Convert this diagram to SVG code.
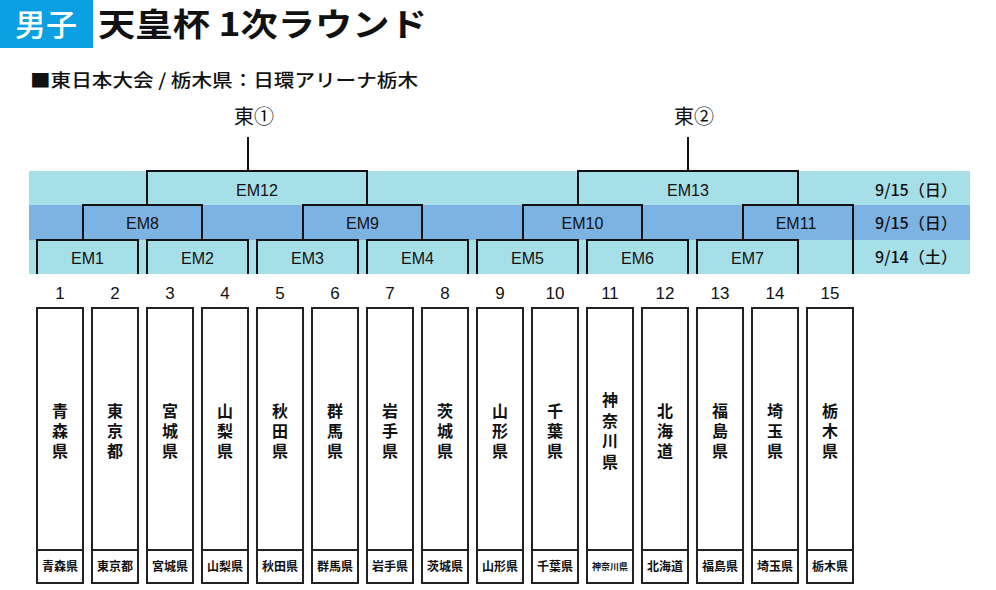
<svg xmlns="http://www.w3.org/2000/svg" width="996" height="590" viewBox="0 0 996 590">
<style>
.jp{font-family:"Noto Sans CJK JP","Noto Sans",sans-serif}
.br{fill:none;stroke:#111;stroke-width:2}
.em{font-family:"Liberation Sans",sans-serif;font-size:16px;fill:#111;text-anchor:middle}
.num{font-family:"Liberation Sans",sans-serif;font-size:17px;fill:#111;text-anchor:middle}
.box{fill:#fff;stroke:#222;stroke-width:2}
.vt{font-family:"Noto Sans CJK JP",sans-serif;font-size:16px;font-weight:700;fill:#111;text-anchor:middle}
.bt{font-family:"Noto Sans CJK JP",sans-serif;font-size:12px;font-weight:700;fill:#111;text-anchor:middle}
.bts{font-family:"Noto Sans CJK JP",sans-serif;font-size:9px;font-weight:700;fill:#111;text-anchor:middle}
.dt{font-family:"Noto Sans CJK JP",sans-serif;font-size:16px;font-weight:500;fill:#111}
</style>
<rect width="996" height="590" fill="#fff"/>
<g id="header">
<rect x="0" y="0" width="93" height="48" fill="#0aa0e2"/>
<text x="46" y="36" class="jp" font-size="31" font-weight="500" fill="#fff" text-anchor="middle">男子</text>
<text x="98" y="36" class="jp" font-size="32" font-weight="700" fill="#111" textLength="329" lengthAdjust="spacingAndGlyphs">天皇杯 1次ラウンド</text>
<text x="30" y="87" class="jp" font-size="18" font-weight="500" fill="#111" textLength="388" lengthAdjust="spacingAndGlyphs">■東日本大会 / 栃木県：日環アリーナ栃木</text>
</g>
<g id="bands">
<rect x="29" y="171" width="941" height="34" fill="#a7dfe9"/>
<rect x="29" y="205" width="941" height="35" fill="#7db3e3"/>
<rect x="29" y="240" width="941" height="34" fill="#a7dfe9"/>
<text x="875" y="196" class="dt" textLength="82" lengthAdjust="spacingAndGlyphs">9/15（日）</text>
<text x="875" y="229" class="dt" textLength="82" lengthAdjust="spacingAndGlyphs">9/15（日）</text>
<text x="875" y="263" class="dt" textLength="82" lengthAdjust="spacingAndGlyphs">9/14（土）</text>
</g>
<g id="finals">
<text x="254" y="124" class="jp" font-size="20" fill="#111" text-anchor="middle">東①</text>
<text x="694" y="124" class="jp" font-size="20" fill="#111" text-anchor="middle">東②</text>
</g>
<g id="connectors">
<path class="br" d="M248,137 V171"/>
<path class="br" d="M688,137 V171"/>
</g>
<g id="EM1"><path class="br" d="M37,274 V240 H138 V274"/><text class="em" x="87.5" y="264">EM1</text></g>
<g id="EM2"><path class="br" d="M147,274 V240 H248 V274"/><text class="em" x="197.5" y="264">EM2</text></g>
<g id="EM3"><path class="br" d="M257,274 V240 H358 V274"/><text class="em" x="307.5" y="264">EM3</text></g>
<g id="EM4"><path class="br" d="M367,274 V240 H468 V274"/><text class="em" x="417.5" y="264">EM4</text></g>
<g id="EM5"><path class="br" d="M477,274 V240 H578 V274"/><text class="em" x="527.5" y="264">EM5</text></g>
<g id="EM6"><path class="br" d="M587,274 V240 H688 V274"/><text class="em" x="637.5" y="264">EM6</text></g>
<g id="EM7"><path class="br" d="M697,274 V240 H798 V274"/><text class="em" x="747.5" y="264">EM7</text></g>
<g id="EM8"><path class="br" d="M83,240 V205 H202 V240"/><text class="em" x="142.5" y="229">EM8</text></g>
<g id="EM9"><path class="br" d="M303,240 V205 H422 V240"/><text class="em" x="362.5" y="229">EM9</text></g>
<g id="EM10"><path class="br" d="M523,240 V205 H642 V240"/><text class="em" x="582.5" y="229">EM10</text></g>
<g id="EM11"><path class="br" d="M743,240 V205 H853 V274"/><text class="em" x="796" y="229">EM11</text></g>
<g id="EM12"><path class="br" d="M147,205 V171 H367 V205"/><text class="em" x="257" y="196">EM12</text></g>
<g id="EM13"><path class="br" d="M578,205 V171 H798 V205"/><text class="em" x="688" y="196">EM13</text></g>
<g id="team1"><text class="num" x="60" y="299">1</text><rect class="box" x="37" y="308" width="46" height="275"/><line x1="37" y1="550" x2="83" y2="550" stroke="#222" stroke-width="2"/><text class="vt" x="60" y="417"><tspan x="60">青</tspan><tspan x="60" dy="20">森</tspan><tspan x="60" dy="20">県</tspan></text><text class="bt" x="60" y="571">青森県</text></g>
<g id="team2"><text class="num" x="115" y="299">2</text><rect class="box" x="92" y="308" width="46" height="275"/><line x1="92" y1="550" x2="138" y2="550" stroke="#222" stroke-width="2"/><text class="vt" x="115" y="417"><tspan x="115">東</tspan><tspan x="115" dy="20">京</tspan><tspan x="115" dy="20">都</tspan></text><text class="bt" x="115" y="571">東京都</text></g>
<g id="team3"><text class="num" x="170" y="299">3</text><rect class="box" x="147" y="308" width="46" height="275"/><line x1="147" y1="550" x2="193" y2="550" stroke="#222" stroke-width="2"/><text class="vt" x="170" y="417"><tspan x="170">宮</tspan><tspan x="170" dy="20">城</tspan><tspan x="170" dy="20">県</tspan></text><text class="bt" x="170" y="571">宮城県</text></g>
<g id="team4"><text class="num" x="225" y="299">4</text><rect class="box" x="202" y="308" width="46" height="275"/><line x1="202" y1="550" x2="248" y2="550" stroke="#222" stroke-width="2"/><text class="vt" x="225" y="417"><tspan x="225">山</tspan><tspan x="225" dy="20">梨</tspan><tspan x="225" dy="20">県</tspan></text><text class="bt" x="225" y="571">山梨県</text></g>
<g id="team5"><text class="num" x="280" y="299">5</text><rect class="box" x="257" y="308" width="46" height="275"/><line x1="257" y1="550" x2="303" y2="550" stroke="#222" stroke-width="2"/><text class="vt" x="280" y="417"><tspan x="280">秋</tspan><tspan x="280" dy="20">田</tspan><tspan x="280" dy="20">県</tspan></text><text class="bt" x="280" y="571">秋田県</text></g>
<g id="team6"><text class="num" x="335" y="299">6</text><rect class="box" x="312" y="308" width="46" height="275"/><line x1="312" y1="550" x2="358" y2="550" stroke="#222" stroke-width="2"/><text class="vt" x="335" y="417"><tspan x="335">群</tspan><tspan x="335" dy="20">馬</tspan><tspan x="335" dy="20">県</tspan></text><text class="bt" x="335" y="571">群馬県</text></g>
<g id="team7"><text class="num" x="390" y="299">7</text><rect class="box" x="367" y="308" width="46" height="275"/><line x1="367" y1="550" x2="413" y2="550" stroke="#222" stroke-width="2"/><text class="vt" x="390" y="417"><tspan x="390">岩</tspan><tspan x="390" dy="20">手</tspan><tspan x="390" dy="20">県</tspan></text><text class="bt" x="390" y="571">岩手県</text></g>
<g id="team8"><text class="num" x="445" y="299">8</text><rect class="box" x="422" y="308" width="46" height="275"/><line x1="422" y1="550" x2="468" y2="550" stroke="#222" stroke-width="2"/><text class="vt" x="445" y="417"><tspan x="445">茨</tspan><tspan x="445" dy="20">城</tspan><tspan x="445" dy="20">県</tspan></text><text class="bt" x="445" y="571">茨城県</text></g>
<g id="team9"><text class="num" x="500" y="299">9</text><rect class="box" x="477" y="308" width="46" height="275"/><line x1="477" y1="550" x2="523" y2="550" stroke="#222" stroke-width="2"/><text class="vt" x="500" y="417"><tspan x="500">山</tspan><tspan x="500" dy="20">形</tspan><tspan x="500" dy="20">県</tspan></text><text class="bt" x="500" y="571">山形県</text></g>
<g id="team10"><text class="num" x="555" y="299">10</text><rect class="box" x="532" y="308" width="46" height="275"/><line x1="532" y1="550" x2="578" y2="550" stroke="#222" stroke-width="2"/><text class="vt" x="555" y="417"><tspan x="555">千</tspan><tspan x="555" dy="20">葉</tspan><tspan x="555" dy="20">県</tspan></text><text class="bt" x="555" y="571">千葉県</text></g>
<g id="team11"><text class="num" x="610" y="299">11</text><rect class="box" x="587" y="308" width="46" height="275"/><line x1="587" y1="550" x2="633" y2="550" stroke="#222" stroke-width="2"/><text class="vt" x="610" y="406"><tspan x="610">神</tspan><tspan x="610" dy="21">奈</tspan><tspan x="610" dy="20">川</tspan><tspan x="610" dy="21">県</tspan></text><text class="bts" x="610" y="570">神奈川県</text></g>
<g id="team12"><text class="num" x="665" y="299">12</text><rect class="box" x="642" y="308" width="46" height="275"/><line x1="642" y1="550" x2="688" y2="550" stroke="#222" stroke-width="2"/><text class="vt" x="665" y="417"><tspan x="665">北</tspan><tspan x="665" dy="20">海</tspan><tspan x="665" dy="20">道</tspan></text><text class="bt" x="665" y="571">北海道</text></g>
<g id="team13"><text class="num" x="720" y="299">13</text><rect class="box" x="697" y="308" width="46" height="275"/><line x1="697" y1="550" x2="743" y2="550" stroke="#222" stroke-width="2"/><text class="vt" x="720" y="417"><tspan x="720">福</tspan><tspan x="720" dy="20">島</tspan><tspan x="720" dy="20">県</tspan></text><text class="bt" x="720" y="571">福島県</text></g>
<g id="team14"><text class="num" x="775" y="299">14</text><rect class="box" x="752" y="308" width="46" height="275"/><line x1="752" y1="550" x2="798" y2="550" stroke="#222" stroke-width="2"/><text class="vt" x="775" y="417"><tspan x="775">埼</tspan><tspan x="775" dy="20">玉</tspan><tspan x="775" dy="20">県</tspan></text><text class="bt" x="775" y="571">埼玉県</text></g>
<g id="team15"><text class="num" x="830" y="299">15</text><rect class="box" x="807" y="308" width="46" height="275"/><line x1="807" y1="550" x2="853" y2="550" stroke="#222" stroke-width="2"/><text class="vt" x="830" y="417"><tspan x="830">栃</tspan><tspan x="830" dy="20">木</tspan><tspan x="830" dy="20">県</tspan></text><text class="bt" x="830" y="571">栃木県</text></g>
</svg>
